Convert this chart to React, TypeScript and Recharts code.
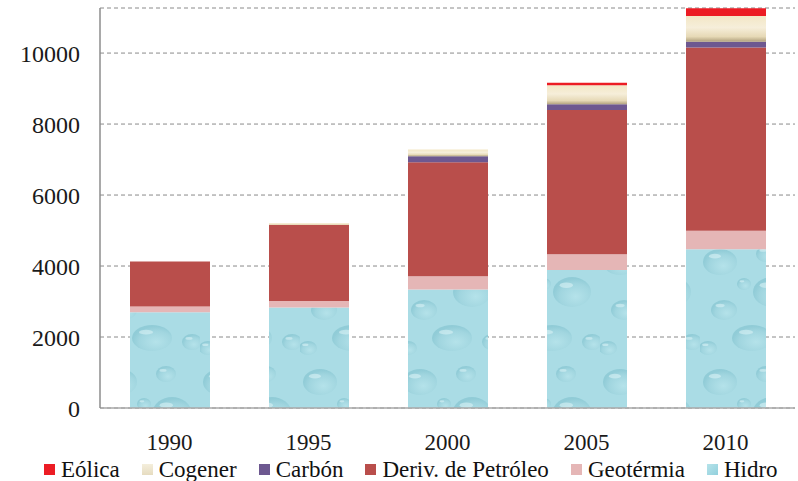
import React from 'react';
import { BarChart, Bar, XAxis, YAxis, CartesianGrid } from 'recharts';

// Installed generation capacity by source (stacked), per year
const years = ['1990', '1995', '2000', '2005', '2010'];
const hidro = [2700, 2830, 3340, 3890, 4470];
const geotermia = [160, 185, 375, 440, 525];
const derivPetroleo = [1270, 2140, 3210, 4065, 5165];
const carbon = [0, 0, 170, 160, 160];
const cogener = [0, 60, 185, 535, 725];
const eolica = [0, 0, 0, 75, 220];

const yTicks = [0, 2000, 4000, 6000, 8000, 10000];
const legendNames = ['Eólica', 'Cogener', 'Carbón', 'Deriv. de Petróleo', 'Geotérmia', 'Hidro'];

const data = years.map((year, i) => ({
  year,
  hidro: hidro[i],
  geotermia: geotermia[i],
  deriv: derivPetroleo[i],
  carbon: carbon[i],
  cogener: cogener[i],
  eolica: eolica[i],
}));

const FONT = 'Liberation Serif, Tinos, Times New Roman, DejaVu Serif, serif';

// Stack order bottom -> top
const stackSeries = [
  { key: 'hidro', fill: 'url(#waterPattern)' },
  { key: 'geotermia', fill: '#E5B6B6' },
  { key: 'deriv', fill: '#B94E4B' },
  { key: 'carbon', fill: '#6D5890' },
  { key: 'cogener', fill: 'url(#cogenGrad)' },
  { key: 'eolica', fill: '#EC1C24' },
];

const legendSwatches = [
  'linear-gradient(#EC1C24, #EC1C24)',
  'linear-gradient(#F4EEDC, #E6DCC0)',
  'linear-gradient(#6D5890, #6D5890)',
  'linear-gradient(#B94E4B, #B94E4B)',
  'linear-gradient(#E5B6B6, #E5B6B6)',
  'linear-gradient(135deg, #B6E3EA, #92D0DD)',
];

// Water-drop blobs for the hydro fill
const drops = [
  { cx: 20, cy: 22, rx: 17, ry: 13 },
  { cx: 66, cy: 14, rx: 10, ry: 8 },
  { cx: 72, cy: 52, rx: 19, ry: 15 },
  { cx: 24, cy: 70, rx: 13, ry: 10 },
  { cx: 52, cy: 98, rx: 20, ry: 13 },
  { cx: 8, cy: 108, rx: 9, ry: 7 },
  { cx: 92, cy: 102, rx: 10, ry: 8 },
  { cx: 44, cy: 44, rx: 7, ry: 6 },
];

function Legend() {
  return (
    <div
      style={{
        position: 'absolute',
        left: 44,
        top: 458,
        display: 'flex',
        alignItems: 'center',
        gap: 22,
        fontFamily: FONT,
        fontSize: 23,
        lineHeight: '23px',
        color: '#111',
        whiteSpace: 'nowrap',
      }}
    >
      {legendNames.map((name, i) => (
        <div key={name} style={{ display: 'flex', alignItems: 'center' }}>
          <span
            style={{
              display: 'inline-block',
              width: 11,
              height: 11,
              marginRight: 6,
              background: legendSwatches[i],
            }}
          />
          <span>{name}</span>
        </div>
      ))}
    </div>
  );
}

export default function App() {
  return (
    <div style={{ position: 'absolute', left: 0, top: 0, width: 798, height: 481, background: '#fff' }}>
      <BarChart
        width={798}
        height={481}
        data={data}
        margin={{ top: 8, right: 3, left: 0, bottom: 43 }}
        barSize={80}
      >
        <defs>
          <linearGradient id="cogenGrad" x1="0" y1="0" x2="0" y2="1">
            <stop offset="0" stopColor="#F3E7C6" />
            <stop offset="0.45" stopColor="#F6EEDA" />
            <stop offset="0.8" stopColor="#E6D9B6" />
            <stop offset="1" stopColor="#B0A07C" />
          </linearGradient>
          <radialGradient id="dropGrad" cx="0.6" cy="0.65" r="0.6">
            <stop offset="0" stopColor="#B9E5EC" />
            <stop offset="0.7" stopColor="#9DD3DD" />
            <stop offset="1" stopColor="#86C5D1" />
          </radialGradient>
          <pattern id="waterPattern" patternUnits="userSpaceOnUse" width="100" height="120">
            <rect width="100" height="120" fill="#AADCE5" />
            {drops.map((d, i) => (
              <g key={i}>
                <ellipse cx={d.cx} cy={d.cy} rx={d.rx} ry={d.ry} fill="url(#dropGrad)" opacity={0.7} />
                <ellipse
                  cx={d.cx - d.rx * 0.3}
                  cy={d.cy - d.ry * 0.45}
                  rx={d.rx * 0.35}
                  ry={d.ry * 0.18}
                  fill="#D8F1F5"
                  opacity={0.6}
                />
              </g>
            ))}
          </pattern>
        </defs>
        <CartesianGrid
          horizontal
          vertical={false}
          stroke="#8A8A8A"
          strokeDasharray="4 3"
        />
        <XAxis
          dataKey="year"
          height={30}
          tickSize={0}
          tickMargin={26}
          axisLine={{ stroke: '#A8A8A8', strokeWidth: 1.5 }}
          tick={{ fill: '#1a1a1a', fontSize: 23, fontFamily: FONT }}
        />
        <YAxis
          type="number"
          domain={[0, 11270]}
          ticks={yTicks}
          allowDataOverflow
          width={100}
          tickSize={0}
          tickMargin={20}
          axisLine={{ stroke: '#8C8C8C', strokeWidth: 1.5 }}
          tick={{ fill: '#1a1a1a', fontSize: 24, fontFamily: FONT }}
        />
        {stackSeries.map((s) => (
          <Bar key={s.key} dataKey={s.key} stackId="total" fill={s.fill} isAnimationActive={false} />
        ))}
      </BarChart>
      <Legend />
    </div>
  );
}
